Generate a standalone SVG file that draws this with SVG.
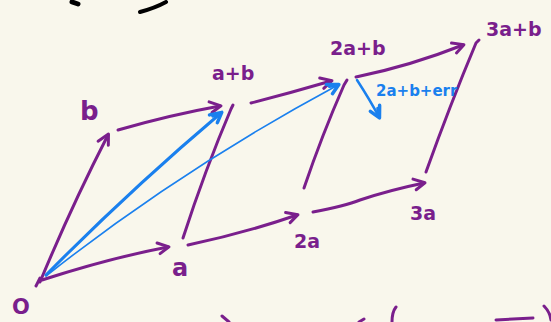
<svg xmlns="http://www.w3.org/2000/svg" width="551" height="322" viewBox="0 0 551 322">
<style>
.p{fill:none;stroke:#7a1f8c;stroke-width:3;stroke-linecap:round;stroke-linejoin:round}
.bl{fill:none;stroke:#1a80ee;stroke-linecap:round;stroke-linejoin:round}
.k{fill:none;stroke:#000;stroke-linecap:round}
.lp{font-family:"DejaVu Sans",sans-serif;font-weight:bold;fill:#7a1f8c}
.lb{font-family:"DejaVu Sans",sans-serif;font-weight:bold;fill:#1a80ee}
</style>
<defs>
<marker id="ap" markerWidth="14" markerHeight="14" refX="10" refY="6" orient="auto" markerUnits="userSpaceOnUse" overflow="visible">
<path d="M0,0 L11,6 L1,11" fill="none" stroke="#7a1f8c" stroke-width="3" stroke-linecap="round" stroke-linejoin="round"/>
</marker>
<marker id="ab" markerWidth="14" markerHeight="14" refX="10" refY="6" orient="auto" markerUnits="userSpaceOnUse" overflow="visible">
<path d="M0,0 L11,6 L1,11 M2,3 L10,6" fill="none" stroke="#1a80ee" stroke-width="3.5" stroke-linecap="round" stroke-linejoin="round"/>
</marker>
</defs>
<rect width="551" height="322" fill="#f9f7ec"/>
<g id="scribbles">
<path class="k" stroke-width="5" d="M72,2 L78,4"/>
<path class="k" stroke-width="4" d="M140,12 Q155,8 166,2"/>
<path class="p" d="M222,316 L229,322"/>
<path class="p" d="M359,322 L364,319"/>
<path class="p" d="M392,322 Q392,312 396,307"/>
<path class="p" stroke-width="4" d="M496,320 L533,318"/>
<path class="p" d="M544,306 Q550,312 551,320"/>
</g>
<g id="connectors">
<path class="p" d="M42,280 Q110,258 168,247" marker-end="url(#ap)"/>
<path class="p" d="M40,282 Q72,205 108,135" marker-end="url(#ap)"/>
<path class="p" d="M36,286 L40,278"/>
<path class="p" d="M118,130 Q170,115 220,106" marker-end="url(#ap)"/>
<path class="p" d="M183,238 Q205,170 231,109 L233,105"/>
<path class="p" d="M188,245 Q245,233 297,215" marker-end="url(#ap)"/>
<path class="p" d="M251,103 Q290,93 331,81" marker-end="url(#ap)"/>
<path class="p" d="M304,188 Q322,135 344,85 L347,80"/>
<path class="p" d="M313,212 Q345,206 360,200 Q390,190 424,183" marker-end="url(#ap)"/>
<path class="p" d="M356,77 Q410,66 463,45" marker-end="url(#ap)"/>
<path class="p" d="M426,172 Q450,105 476,43 L479,40"/>
<path class="bl" stroke-width="3" d="M46,275 Q130,190 221,113" marker-end="url(#ab)"/>
<path class="bl" stroke-width="1.6" d="M46,276 Q180,170 338,85" marker-end="url(#ab)"/>
<path class="bl" stroke-width="2.5" d="M357,80 Q370,100 379,117" marker-end="url(#ab)"/>
</g>
<g id="n-o"><text class="lp" x="12" y="314" font-size="21">O</text></g>
<g id="n-a"><text class="lp" x="172" y="276" font-size="24">a</text></g>
<g id="n-b"><text class="lp" x="80" y="120" font-size="26">b</text></g>
<g id="n-ab"><text class="lp" x="212" y="80" font-size="19">a+b</text></g>
<g id="n-2a"><text class="lp" x="294" y="248" font-size="19">2a</text></g>
<g id="n-3a"><text class="lp" x="410" y="220" font-size="19">3a</text></g>
<g id="n-2ab"><text class="lp" x="330" y="55" font-size="19">2a+b</text></g>
<g id="n-3ab"><text class="lp" x="486" y="36" font-size="19">3a+b</text></g>
<g id="n-err"><text class="lb" x="376" y="96" font-size="15">2a+b+err</text></g>
</svg>
